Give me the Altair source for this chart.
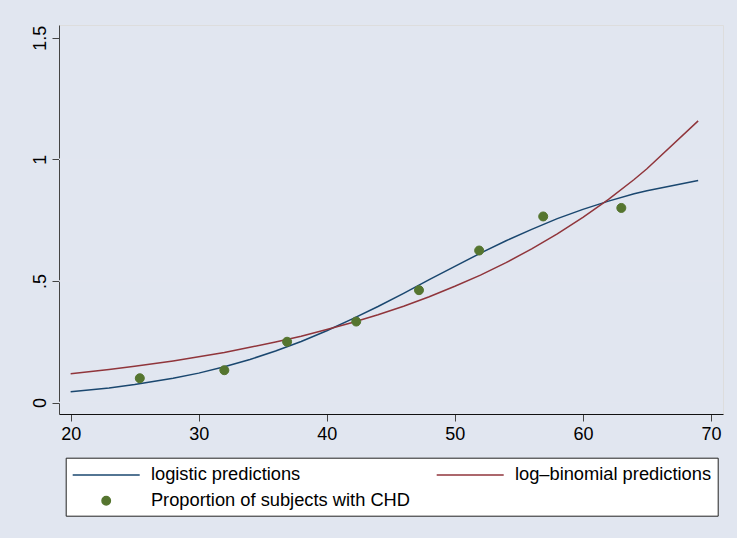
import altair as alt
import pandas as pd

# ---- data ----
ages = [20, 23, 25, 28, 30, 32, 34, 36, 38, 40, 42, 44, 46, 48, 50, 52, 54, 56, 58, 60, 62, 64, 65, 69]
logistic = [0.044, 0.060, 0.074, 0.100, 0.121, 0.147, 0.177, 0.212, 0.251, 0.295, 0.344, 0.395,
            0.449, 0.505, 0.560, 0.614, 0.665, 0.712, 0.756, 0.794, 0.828, 0.858, 0.871, 0.913]
logbinomial = [0.118, 0.136, 0.149, 0.171, 0.188, 0.206, 0.227, 0.249, 0.273, 0.300, 0.329, 0.361,
               0.396, 0.435, 0.478, 0.524, 0.575, 0.632, 0.693, 0.761, 0.835, 0.917, 0.961, 1.158]
group_age = [25.4, 32.0, 36.9, 42.3, 47.2, 51.9, 56.9, 63.0]
group_prop = [0.100, 0.133, 0.250, 0.333, 0.462, 0.625, 0.765, 0.800]
x_ticks = [20, 30, 40, 50, 60, 70]
y_ticks = [0, 0.5, 1, 1.5]
grid_vals = [0, 0.5, 1]

S1 = "logistic predictions"
S2 = "log\u2013binomial predictions"
S3 = "Proportion of subjects with CHD"
# legend fills column by column: S1, S3 in the first column, S2 in the second
series = [S1, S3, S2]
colors = ["#1A476F", "#55752F", "#90353B"]

LINE = "M-3.35,0H3.35"
DOT = "M0,-0.42A0.42,0.42,0,1,1,0,0.42A0.42,0.42,0,1,1,0,-0.42Z"
shapes = [LINE, DOT, LINE]

n = len(ages)
lines_df = pd.DataFrame({
    "age": ages + ages,
    "p": logistic + logbinomial,
    "series": [S1] * n + [S2] * n,
})
pts_df = pd.DataFrame({"age": group_age, "p": group_prop, "series": [S3] * len(group_age)})
grid_df = pd.DataFrame({"p": grid_vals})

FONT = "Liberation Sans"

xs = alt.Scale(domain=[19.09, 70.94], nice=False, zero=False)
ys = alt.Scale(domain=[-0.047, 1.552], nice=False, zero=False)

xaxis = alt.Axis(values=x_ticks, title=None, grid=False, tickSize=7, tickColor="#444",
                 domainColor="#111", domainWidth=1, labelFontSize=18, labelColor="#000",
                 labelPadding=4, labelFlush=False, labelFont=FONT)
yaxis = alt.Axis(values=y_ticks, title=None, grid=False, tickSize=7, tickColor="#444",
                 domainColor="#444", domainWidth=1, labelFontSize=18, labelColor="#000",
                 labelAngle=270, labelAlign="center", labelBaseline="alphabetic",
                 labelPadding=7, labelFlush=False, labelFont=FONT,
                 labelExpr="datum.value == 0.5 ? '.5' : toString(datum.value)")

X = alt.X("age:Q", scale=xs, axis=xaxis)
Y = alt.Y("p:Q", scale=ys, axis=yaxis)

legend = alt.Legend(title=None, orient="none", legendX=6.7, legendY=432.7, columns=2,
                    symbolSize=400, symbolStrokeWidth=1.5, symbolOffset=23.5, labelOffset=33.7,
                    labelFontSize=18.3, labelFont=FONT, labelColor="#000", labelLimit=500,
                    fillColor="#FFFFFF", strokeColor="#222", padding=6, rowPadding=6,
                    columnPadding=23, symbolOpacity=1)

stroke_enc = alt.Stroke("series:N", scale=alt.Scale(domain=series, range=colors), legend=legend)
fill_enc = alt.Fill("series:N", scale=alt.Scale(domain=series, range=colors), legend=legend)
shape_enc = alt.Shape("series:N", scale=alt.Scale(domain=series, range=shapes), legend=legend)

grid = alt.Chart(grid_df).mark_rule(color="#E2E6F0", strokeWidth=1.5).encode(y=Y)

lines = alt.Chart(lines_df).mark_line(strokeWidth=1.5).encode(
    x=X, y=Y, stroke=stroke_enc, detail="series:N", order="age:Q"
)

points = alt.Chart(pts_df).mark_point(filled=True, opacity=1, size=460, strokeWidth=1).encode(
    x=X, y=Y, fill=fill_enc, stroke=stroke_enc, shape=shape_enc
)

chart = alt.layer(grid, lines, points).properties(
    width=664, height=389,
    background="#E1E6F0",
    padding={"left": 59, "top": 25, "right": 14, "bottom": 124},
    autosize=alt.AutoSizeParams(type="none"),
).configure_view(fill="#FFFFFF", strokeWidth=0).configure(font=FONT)

chart.save("out.html", embed_options={"renderer": "svg", "actions": False})
